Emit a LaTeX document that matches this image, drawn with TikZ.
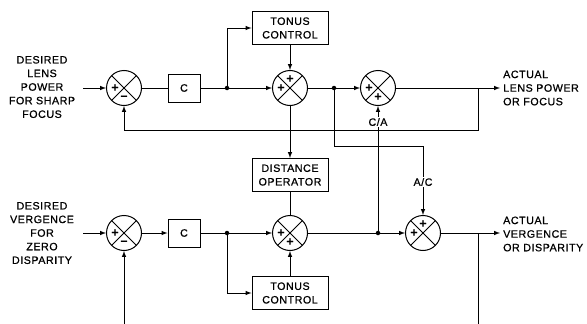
\documentclass[tikz,border=0pt]{standalone}
\usepackage{fontspec}
\setmainfont{Liberation Sans}[LetterSpace=5, FakeBold=0.8]
\usetikzlibrary{arrows, positioning, calc}
\newcommand{\lbl}{\fontsize{10.7}{13.6}\selectfont}

\tikzset{
  sumjn/.style={draw, circle, minimum size=35pt, inner sep=0pt, line width=1pt,
    path picture={\draw[line width=1pt] (path picture bounding box.north west) -- (path picture bounding box.south east)
      (path picture bounding box.north east) -- (path picture bounding box.south west);}},
  blk/.style={draw, line width=1pt, minimum width=76pt, minimum height=33pt, inner sep=1pt, align=center, font=\lbl},
  cblk/.style={draw, line width=1pt, minimum width=32pt, minimum height=28pt, font=\lbl},
  sgn/.style={inner sep=0pt, font=\bfseries\fontsize{12}{12}\selectfont},
  jdot/.style={circle, fill, inner sep=0pt, minimum size=4.5pt},
  wire/.style={line width=1pt},
  sig/.style={wire, -latex},
  txt/.style={align=center, font=\lbl, inner sep=0pt},
  rtxt/.style={align=left, font=\lbl, inner sep=0pt, anchor=west},
  tag/.style={fill=white, font=\lbl, inner sep=1pt}
}

\begin{document}
\begin{tikzpicture}[x=1pt, y=-1pt]
  \useasboundingbox (0,0) rectangle (587,324);

  % lens (accommodation) loop
  \node (des1) [txt] at (42,87) {DESIRED\\LENS\\POWER\\FOR SHARP\\FOCUS};
  \coordinate (in1) at (83,88);
  \node (s1) [sumjn] at (124,88) {};
  \node (c1) [cblk] at (184,88) {C};
  \node (j1) [jdot] at (227,88) {};
  \node (tc1) [blk] at (290,28) {TONUS\\CONTROL};
  \node (s2) [sumjn] at (290,88) {};
  \node (j2) [jdot] at (334,88) {};
  \node (s3) [sumjn] at (378,88) {};
  \coordinate (b1) at (478,88);
  \coordinate (out1) at (500,88);
  \node (act1) [rtxt] at (503,88) {ACTUAL\\LENS POWER\\OR FOCUS};
  \coordinate (fb1) at (124,130);

  % distance operator between the loops
  \node (dop) [blk] at (290,175) {DISTANCE\\OPERATOR};
  \coordinate (ac0) at (423,146);

  % vergence loop
  \node (des2) [txt] at (42,233) {DESIRED\\VERGENCE\\FOR\\ZERO\\DISPARITY};
  \coordinate (in2) at (83,233);
  \node (s6) [sumjn] at (124,233) {};
  \node (c2) [cblk] at (184,233) {C};
  \node (j3) [jdot] at (227,233) {};
  \node (tc2) [blk] at (290,293) {TONUS\\CONTROL};
  \node (s5) [sumjn] at (290,233) {};
  \node (j4) [jdot] at (378,233) {};
  \node (s4) [sumjn] at (423,233) {};
  \coordinate (b2) at (478,233);
  \coordinate (out2) at (500,233);
  \node (act2) [rtxt] at (503,234) {ACTUAL\\VERGENCE\\OR DISPARITY};
  \coordinate (end2) at (478,324);
  \coordinate (fb2) at (124,324);

  % signs
  \node (s1a) [sgn] at ([xshift=-9pt]s1.center) {+};
  \node (s1b) [sgn] at ([yshift=-9.5pt]s1.center) {\textendash};
  \node (s2a) [sgn] at ([xshift=-9pt]s2.center) {+};
  \node (s2b) [sgn] at ([yshift=9pt]s2.center) {+};
  \node (s3a) [sgn] at ([xshift=-9pt]s3.center) {+};
  \node (s3b) [sgn] at ([yshift=-9pt]s3.center) {+};
  \node (s4a) [sgn] at ([xshift=-9pt]s4.center) {+};
  \node (s4b) [sgn] at ([yshift=9pt]s4.center) {+};
  \node (s5a) [sgn] at ([xshift=-9pt]s5.center) {+};
  \node (s5b) [sgn] at ([yshift=-9pt]s5.center) {+};
  \node (s6a) [sgn] at ([xshift=-9pt]s6.center) {+};
  \node (s6b) [sgn] at ([yshift=-9.5pt]s6.center) {\textendash};

  % top row
  \draw[sig] (in1) -- (s1);
  \draw[wire] (s1) -- (c1);
  \draw[wire] (c1) -- (j1);
  \draw[sig] (j1) -- (s2);
  \draw[sig] (j1) |- (tc1);
  \draw[sig] (tc1) -- (s2);
  \draw[sig] (s2) -- (dop);
  \draw[wire] (s2) -- (j2);
  \draw[sig] (j2) -- (s3);
  \draw[sig] (s3) -- (out1);
  \draw[sig] (b1) |- (fb1) -- (s1);

  % cross links
  \draw[sig] (j2) |- (ac0) -- (s4);
  \draw[sig] (j4) -- (s3);
  \draw[wire] (dop) -- (s5);

  % bottom row
  \draw[sig] (in2) -- (s6);
  \draw[sig] (s6) -- (c2);
  \draw[wire] (c2) -- (j3);
  \draw[sig] (j3) -- (s5);
  \draw[sig] (j3) |- (tc2);
  \draw[sig] (tc2) -- (s5);
  \draw[wire] (s5) -- (j4);
  \draw[sig] (j4) -- (s4);
  \draw[sig] (s4) -- (out2);
  \draw[wire] (b2) -- (end2);
  \draw[sig] (fb2) -- (s6);

  % gain tags
  \node (ca) [tag] at (378,122) {C/A};
  \node (acl) [tag] at (423,182) {A/C};
\end{tikzpicture}
\end{document}
